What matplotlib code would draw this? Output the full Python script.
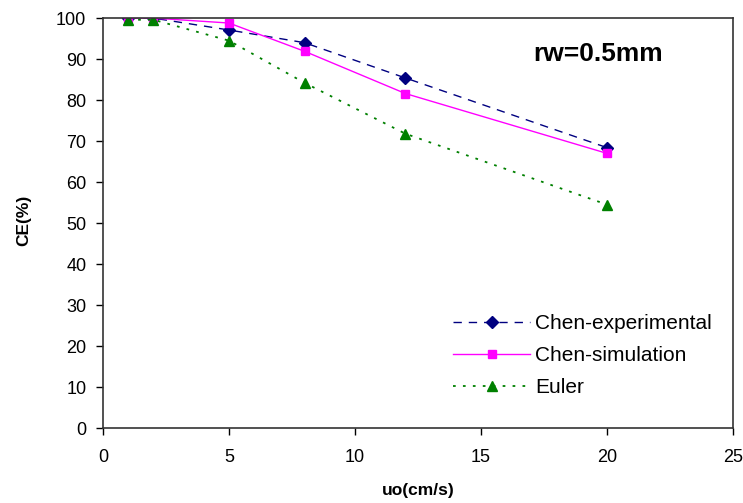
import matplotlib
matplotlib.use("Agg")
import matplotlib.pyplot as plt

plt.rcParams['font.family'] = ['Liberation Sans', 'DejaVu Sans']

x = [1, 2, 5, 8, 12, 20]
chen_exp = [100, 100, 97.1, 94.0, 85.4, 68.4]
chen_sim = [100, 100, 98.8, 91.9, 81.6, 67.0]
euler = [99.6, 99.6, 94.5, 84.2, 71.8, 54.5]

fig = plt.figure(figsize=(7.43, 5.03), dpi=100)
ax = fig.add_axes([0.1386, 0.149, 0.848, 0.815])

ax.plot(x, chen_exp, color='#000080', linestyle=(0, (6, 5)), linewidth=1,
        marker='D', markersize=6, label='Chen-experimental')
ax.plot(x, chen_sim, color='#FF00FF', linestyle='-', linewidth=1,
        marker='s', markersize=6, label='Chen-simulation')
ax.plot(x, euler, color='#008000', linestyle=(0, (1.5, 4)), linewidth=1.3,
        marker='^', markersize=7, label='Euler')

ax.set_xlim(0, 25)
ax.set_ylim(0, 100)
ax.set_xticks(range(0, 26, 5))
ax.set_yticks(range(0, 101, 10))
ax.tick_params(direction='out', length=5, labelsize=13, width=1)
ax.tick_params(axis='x', pad=10)
ax.tick_params(axis='y', pad=7)
for s in ax.spines.values():
    s.set_linewidth(1.2)
    s.set_color('#333333')

fig.text(418 / 743, 1 - 491 / 503, 'uo(cm/s)', fontsize=12.5, fontweight='bold',
         ha='center', va='center')
fig.text(24 / 743, 1 - 220 / 503, 'CE(%)', fontsize=12.5, fontweight='bold',
         ha='center', va='center', rotation=90)

fig.text(598 / 743, 1 - 54 / 503, 'rw=0.5mm', fontsize=19,
         fontweight='bold', ha='center', va='center')

ax.legend(loc='lower right', bbox_to_anchor=(0.99, 0.04), frameon=False,
          fontsize=15, handlelength=3.7, handletextpad=0.25, labelspacing=0.62,
          borderpad=0.2)

fig.savefig('out.png', dpi=100)
